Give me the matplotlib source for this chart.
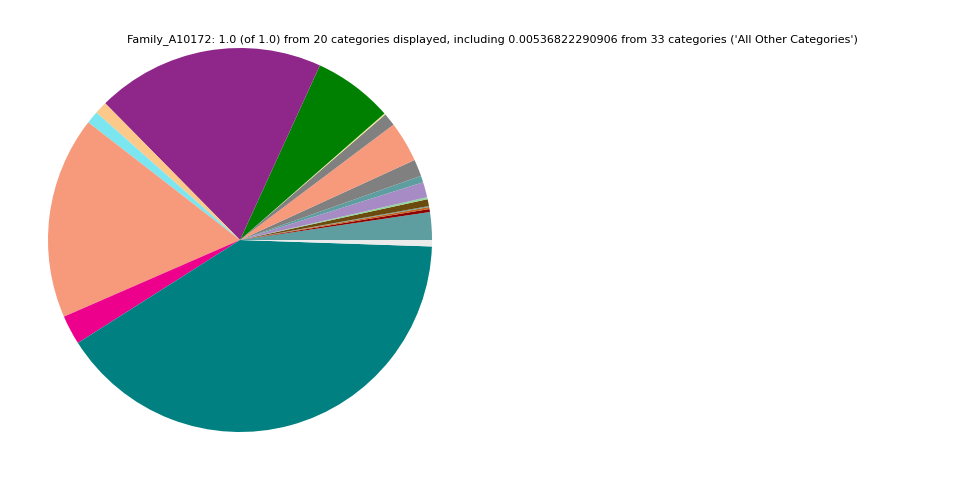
import matplotlib
matplotlib.use("Agg")
import matplotlib.pyplot as plt

# slice shares, counter-clockwise from 0 degrees
labels = ["cat01", "cat02", "cat03", "cat04", "cat05", "cat06", "cat07",
          "cat08", "cat09", "cat10", "cat11", "cat12", "cat13", "cat14",
          "cat15", "cat16", "cat17", "cat18", "cat19",
          "All Other Categories"]
values = [0.0233, 0.0025, 0.0017, 0.0008, 0.0058, 0.0017, 0.0128, 0.0056,
          0.0142, 0.0342, 0.0108, 0.0011, 0.0672, 0.1922, 0.0106, 0.0106,
          0.1703, 0.0247, 0.4046, 0.00537]
colors = ["#5F9EA0", "#8B0000", "#C8641E", "#5F9EA0", "#6B4A0E", "#8FD89A",
          "#A68BC5", "#5F9EA0", "#808080", "#F7997B", "#808080", "#F0E68C",
          "#008000", "#8F278B", "#FDC98A", "#7BE5F0", "#F7997B", "#EC008C",
          "#008080", "#EBEBEB"]

title = ("Family_A10172: 1.0 (of 1.0) from 20 categories displayed, including "
         "0.00536822290906 from 33 categories ('All Other Categories')")

fig = plt.figure(figsize=(9.6, 4.8), dpi=100)
ax = fig.add_axes([0.05, 0.1, 0.4, 0.8])
ax.pie(values, colors=colors, startangle=0, counterclock=True)
ax.set_xlim(-1, 1)
ax.set_ylim(-1, 1)
ax.set_aspect("equal")
ax.axis("off")

fig.text(0.5125, 0.917, title, ha="center", va="center", fontsize=8)

fig.savefig("out.png", dpi=100)
